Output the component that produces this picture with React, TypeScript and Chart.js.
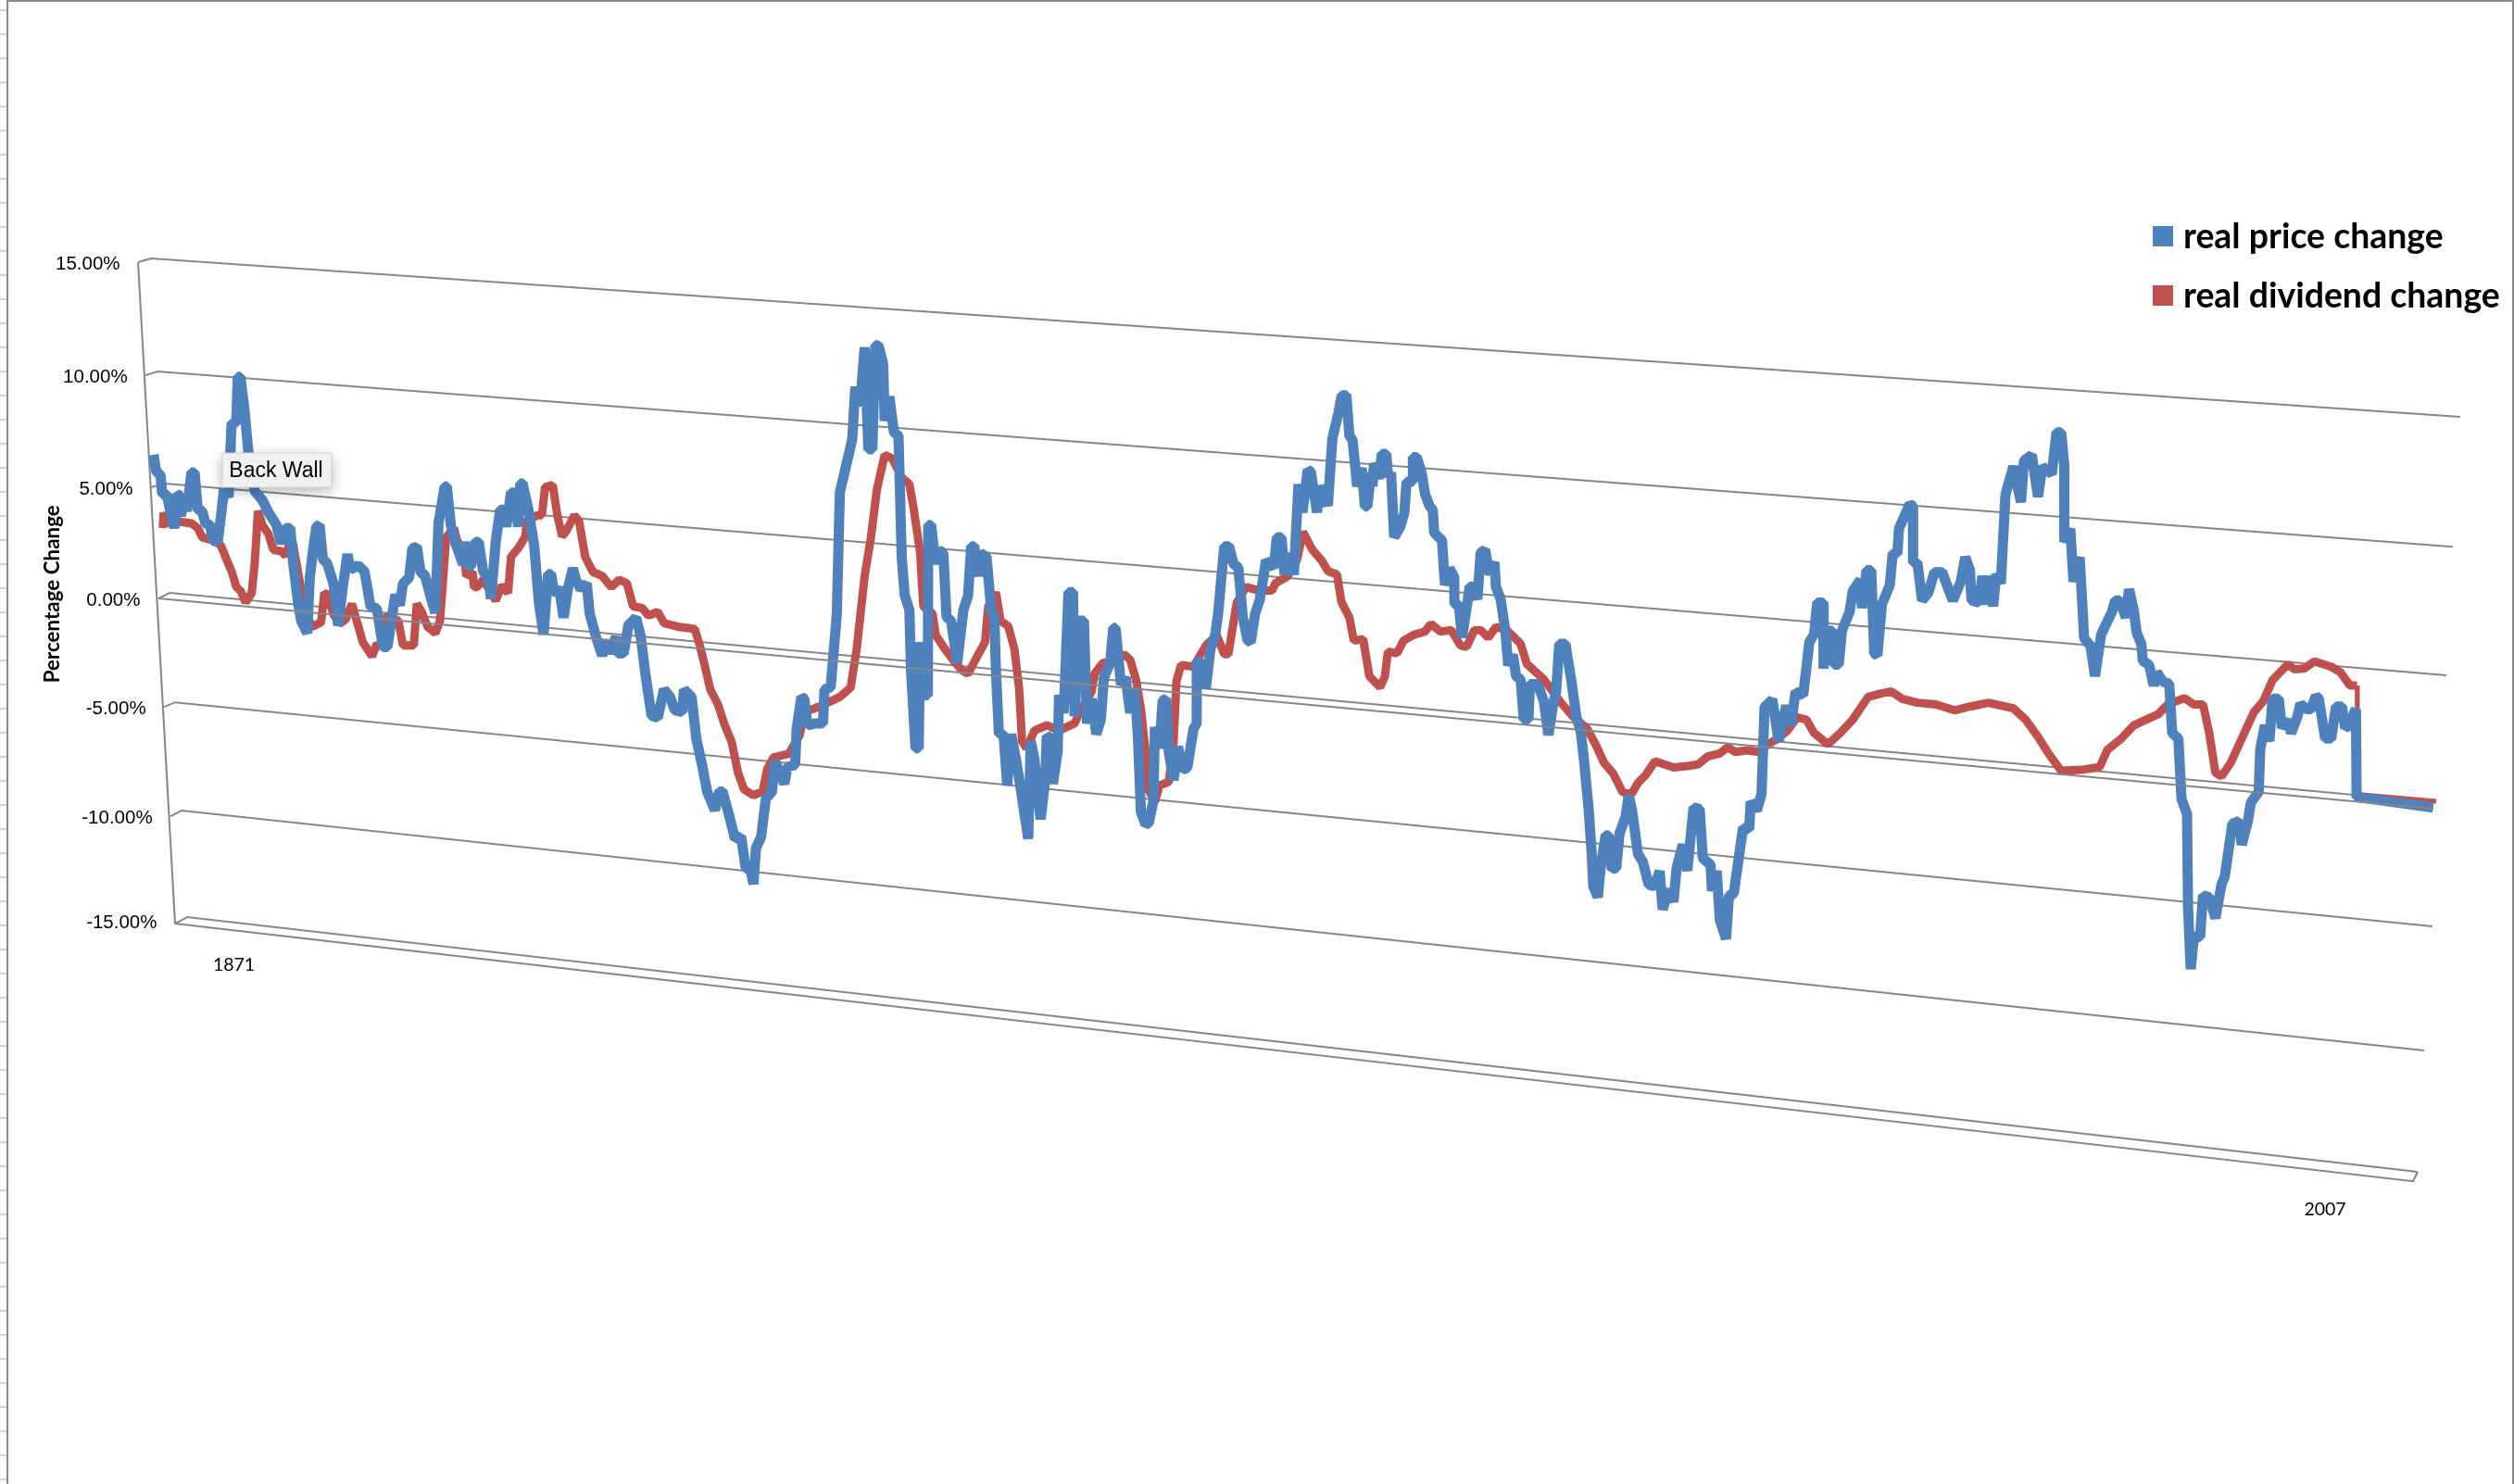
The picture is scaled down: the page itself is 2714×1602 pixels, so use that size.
import React, { useEffect, useRef } from "react";
import { Chart, registerables } from "chart.js";

Chart.register(...registerables);

const seriesNames = ["real price change", "real dividend change"];
const seriesColors = ["#4F81BD", "#C0504D"];
const gridColor = "#868686";

const priceChange = [
[1871.04,6.22],[1871.19,5.49],[1871.46,5.28],[1871.56,4.44],[1871.83,4.44],[1872.02,3.75],[1872.30,2.92],[1872.44,4.44],[1872.63,4.38],[1872.67,3.47],[1872.89,4.10],[1873.04,3.68],[1873.31,5.42],[1873.50,5.42],[1873.69,3.75],[1873.96,3.68],[1874.15,3.13],[1874.43,3.06],[1874.61,2.36],[1874.89,2.29],[1875.13,3.75],[1875.26,4.65],[1875.54,4.31],[1875.72,7.64],[1876.00,7.64],[1876.09,9.72],[1876.24,9.72],[1876.46,8.47],[1876.74,6.25],[1877.11,4.58],[1877.57,4.17],[1877.94,3.61],[1878.41,3.06],[1878.69,2.22],[1878.96,2.92],[1879.24,2.92],[1879.43,1.25],[1879.70,-0.42],[1879.89,-1.25],[1880.26,-1.81],[1880.41,0.69],[1880.63,2.08],[1880.81,2.99],[1881.00,3.06],[1881.19,1.53],[1881.46,1.32],[1881.83,0.42],[1882.11,-1.46],[1882.39,0.28],[1882.67,1.74],[1882.85,1.04],[1883.31,1.25],[1883.69,0.97],[1884.06,-0.63],[1884.43,-0.69],[1884.80,-2.43],[1885.07,-2.43],[1885.54,-0.07],[1885.81,-0.56],[1886.00,0.42],[1886.37,0.69],[1886.56,2.01],[1886.83,2.08],[1887.06,0.90],[1887.30,0.83],[1887.67,-0.21],[1887.94,-0.90],[1888.13,3.13],[1888.50,4.79],[1888.63,4.79],[1888.87,3.06],[1889.15,2.22],[1889.61,1.28],
[1889.70,2.30],[1889.89,1.19],[1890.07,1.19],[1890.35,2.30],[1890.54,2.30],[1890.81,0.94],[1891.09,0.77],[1891.28,-0.26],[1891.56,2.30],[1891.83,3.74],[1892.02,3.74],[1892.20,2.98],[1892.48,4.51],[1892.67,4.51],[1892.91,2.98],[1893.04,4.93],[1893.17,4.93],[1893.50,3.83],[1893.87,2.13],[1894.15,-0.43],[1894.43,-1.87],[1894.70,0.85],[1894.89,0.85],[1895.07,-0.09],[1895.35,0.26],[1895.63,-1.11],[1895.91,0.26],[1896.19,1.11],[1896.37,0.60],[1896.65,0.17],[1897.02,0.43],[1897.20,-0.94],[1897.57,-1.96],[1897.94,-2.81],[1898.22,-2.13],[1898.41,-2.72],[1898.78,-1.96],[1898.87,-2.72],[1899.24,-2.72],[1899.52,-1.45],[1899.98,-1.11],[1900.26,-1.96],[1900.54,-3.66],[1900.91,-5.53],[1901.28,-5.61],[1901.65,-4.34],[1902.02,-4.68],[1902.30,-5.27],[1902.76,-5.36],[1902.85,-4.34],[1903.31,-4.68],[1903.59,-6.55],[1903.96,-7.82],[1904.24,-8.93],[1904.70,-9.78],[1904.98,-8.93],[1905.17,-8.93],[1905.54,-9.95],[1905.91,-11.05],[1906.28,-10.97],[1906.56,-12.41],[1906.83,-12.41],[1907.02,-13.10],[1907.17,-11.48],[1907.48,-10.97],[1907.76,-9.27],[1908.13,-8.93],[1908.31,-7.57],[1908.50,-7.91],[1908.87,-8.59],[1909.06,-7.82],[1909.52,-7.74],[1909.61,-6.12],[1909.89,-4.68],[1910.07,-4.76],[1910.26,-5.95],[1910.72,-5.87],[1911.19,-5.87],[1911.28,-4.34],[1911.65,-4.25],[1911.83,-2.64],[1912.02,-0.94],[1912.20,4.51],[1912.57,5.70],[1912.94,6.89],[1913.13,9.27],[1913.41,8.42],[1913.69,11.05],[1913.91,6.46],[1914.15,6.46],[1914.33,11.14],[1914.52,11.14],[1914.80,10.29],[1914.89,7.74],[1915.17,8.84],[1915.44,7.23],[1915.72,7.06],[1915.91,1.62],[1916.09,-0.09],
[1916.37,-0.77],[1916.47,-3.48],[1916.74,-6.99],[1916.93,-6.99],[1917.02,-2.21],[1917.30,-4.60],[1917.48,-4.60],[1917.50,3.06],[1917.67,3.06],[1917.95,1.30],[1918.13,1.94],[1918.41,1.78],[1918.60,-1.09],[1918.87,-1.25],[1919.24,-3.16],[1919.61,-0.77],[1919.89,-0.13],[1920.08,2.10],[1920.26,2.10],[1920.54,0.75],[1920.63,1.78],[1921.00,1.62],[1921.28,-0.77],[1921.47,-1.09],[1921.56,-3.48],[1921.74,-6.35],[1922.02,-6.35],[1922.24,-8.66],[1922.48,-6.35],[1922.76,-7.47],[1923.04,-8.75],[1923.32,-10.18],[1923.50,-11.06],[1923.65,-6.67],[1923.87,-7.47],[1924.24,-10.18],[1924.52,-8.42],[1924.61,-6.43],[1924.80,-6.51],[1924.98,-8.59],[1925.26,-7.15],[1925.35,-4.60],[1925.63,-5.40],[1925.91,0.03],[1926.19,0.03],[1926.28,-5.55],[1926.56,-1.25],[1926.84,-1.25],[1927.02,-5.87],[1927.30,-4.76],[1927.58,-6.35],[1927.85,-5.71],[1928.04,-3.80],[1928.41,-3.16],[1928.60,-1.57],[1928.74,-1.57],[1929.06,-4.12],[1929.34,-3.80],[1929.61,-5.40],[1929.89,-4.28],[1930.08,-6.51],[1930.26,-9.86],[1930.54,-10.42],[1930.73,-10.34],[1931.00,-9.38],[1931.10,-6.03],[1931.37,-6.99],[1931.56,-4.84],[1931.78,-4.76],[1931.93,-7.15],[1932.21,-8.42],[1932.48,-6.91],[1932.76,-7.95],[1933.04,-7.87],[1933.41,-6.11],[1933.60,-5.87],[1933.61,-3.08],[1933.78,-3.08],[1934.15,-4.28],[1934.43,-2.52],[1934.71,-1.89],[1934.89,-0.93],[1935.08,0.67],[1935.26,2.10],[1935.54,2.10],[1935.82,1.30],[1936.10,1.14],[1936.37,-1.09],[1936.65,-2.13],[1936.84,-2.21],[1937.11,-0.93],[1937.39,-0.29],[1937.76,1.46],[1938.23,1.14],[1938.41,2.50],[1938.69,2.50],[1938.87,0.82],[1939.15,1.78],[1939.43,0.82],[1939.71,4.89],[1939.95,3.62],[1940.26,5.53],[1940.45,5.45],[1940.82,3.62],[1941.00,4.81],[1941.47,3.93],[1941.74,6.94],
[1942.11,8.12],[1942.30,8.89],[1942.58,8.89],[1942.76,7.08],[1942.95,6.87],[1943.13,5.55],[1943.22,4.79],[1943.50,5.62],[1943.69,3.89],[1943.84,3.89],[1944.06,5.41],[1944.15,4.79],[1944.24,5.83],[1944.52,5.14],[1944.71,6.25],[1944.98,6.25],[1945.08,5.21],[1945.26,5.41],[1945.45,2.50],[1945.82,2.98],[1946.06,3.61],[1946.19,5.00],[1946.56,5.00],[1946.57,6.11],[1946.80,6.11],[1947.11,5.34],[1947.30,4.44],[1947.58,3.89],[1947.76,3.75],[1947.85,2.71],[1948.32,2.36],[1948.41,1.25],
[1948.50,0.35],[1948.77,1.11],[1949.05,0.69],[1949.06,-0.49],[1949.33,-0.56],[1949.52,-2.01],[1949.98,0.28],[1950.16,0.28],[1950.44,-0.28],[1950.63,1.81],[1950.90,1.94],[1951.18,0.83],[1951.46,1.39],[1951.55,0.28],[1951.83,-0.28],[1952.11,-1.67],[1952.29,-3.26],[1952.57,-2.78],[1952.76,-3.75],[1953.03,-3.89],[1953.22,-5.69],[1953.50,-5.69],[1953.59,-4.10],[1954.05,-4.10],[1954.42,-4.86],[1954.70,-6.39],[1954.98,-5.00],[1955.16,-4.44],[1955.35,-2.29],[1955.72,-2.29],[1956.09,-4.03],[1956.37,-5.56],[1956.64,-6.25],[1956.83,-7.50],[1957.11,-9.72],[1957.29,-11.67],[1957.39,-13.19],[1957.66,-13.68],[1957.85,-12.22],[1958.13,-10.90],[1958.31,-10.90],[1958.50,-12.43],[1958.77,-12.36],[1958.96,-10.83],[1959.33,-10.07],[1959.51,-9.10],[1959.70,-9.72],[1960.07,-11.74],[1960.35,-12.08],[1960.72,-13.13],[1961.09,-13.19],[1961.37,-12.50],[1961.55,-14.24],[1961.92,-13.33],[1962.20,-13.89],[1962.39,-12.36],[1962.76,-11.32],[1963.03,-12.50],[1963.40,-9.65],[1963.77,-9.72],[1963.96,-11.94],[1964.42,-12.22],[1964.51,-13.40],[1964.79,-12.50],[1964.98,-14.72],[1965.35,-15.56],[1965.53,-13.61],[1965.81,-13.54],[1966.37,-10.56],[1966.74,-10.63],[1966.83,-9.38],[1967.20,-9.79],[1967.48,-9.03],[1967.66,-5.14],[1968.13,-4.79],[1968.50,-6.67],[1968.96,-5.07],[1969.24,-5.97],[1969.52,-4.44],
[1969.98,-4.60],[1970.35,-2.21],[1970.63,-1.87],[1970.82,-0.43],[1971.19,-0.43],[1971.20,-3.40],[1971.46,-1.70],[1971.74,-1.70],[1971.83,-3.23],[1972.11,-3.23],[1972.30,-1.70],[1972.76,-0.85],[1972.95,0.08],[1973.41,0.59],[1973.50,-0.68],[1973.78,1.02],[1974.06,1.02],[1974.24,-2.72],[1974.43,-2.81],[1974.70,-0.51],[1975.17,0.34],[1975.35,1.78],[1975.63,1.78],[1975.72,2.89],[1976.37,3.99],[1976.56,3.91],[1976.57,1.36],[1976.83,1.36],[1977.11,-0.34],[1977.48,0.00],[1977.85,0.93],[1978.32,0.93],[1978.69,0.17],[1978.96,-0.34],[1979.43,0.51],[1979.70,1.61],[1979.98,1.02],[1980.07,-0.34],[1980.54,-0.43],[1980.72,0.76],[1981.00,-0.51],[1981.09,0.76],[1981.37,-0.60],[1981.56,0.85],[1981.83,0.42],[1982.11,4.42],[1982.58,5.69],[1983.04,4.08],[1983.22,5.95],[1983.69,6.20],[1984.06,4.33],[1984.33,5.69],[1984.89,5.35],[1985.17,7.22],[1985.45,7.22],[1985.63,5.78],[1985.64,2.29],[1986.00,2.89],[1986.19,0.51],[1986.56,1.61],[1986.83,-2.04],[1987.21,-2.38],[1987.48,-3.74],[1987.85,-1.87],[1988.50,-0.85],[1988.69,-0.34],[1988.96,-0.34],[1989.33,-1.11],[1989.52,0.17],[1989.80,-0.77],[1989.98,-1.79],[1990.26,-2.30],[1990.35,-3.06],[1990.72,-3.23],[1991.00,-4.17],[1991.19,-3.57],[1991.56,-4.00],[1991.93,-4.08],[1992.11,-6.30],[1992.48,-6.55],[1992.67,-9.27],[1993.00,-9.95],[1993.06,-14.12],[1993.22,-16.92],[1993.41,-15.48],[1993.78,-15.48],[1993.96,-13.61],[1994.33,-13.69],[1994.70,-14.63],[1995.07,-13.10],
[1995.26,-12.77],[1995.72,-10.38],[1996.13,-10.26],[1996.28,-11.33],[1996.65,-10.26],[1996.83,-9.42],[1997.30,-8.94],[1997.39,-7.03],[1997.67,-5.95],[1997.94,-6.67],[1998.13,-4.76],[1998.50,-4.76],[1998.69,-6.07],[1999.06,-5.71],[1999.24,-6.31],[1999.61,-5.59],[1999.80,-4.99],[2000.17,-5.23],[2000.44,-5.23],[2000.72,-4.64],[2000.91,-4.76],[2001.28,-6.55],[2001.65,-6.55],[2001.93,-5.11],[2002.30,-5.11],[2002.48,-6.07],[2002.76,-5.95],[2003.04,-5.35],[2003.13,-5.23],[2003.17,-9.18],[2007.76,-9.66]
];

const dividendChange = [
[1871.59,2.92],[1871.65,3.61],[1871.93,3.06],[1872.20,3.26],[1872.76,3.19],[1873.31,3.13],[1873.69,2.92],[1873.96,2.50],[1874.61,2.36],[1875.07,2.15],[1875.44,1.46],[1875.72,0.97],[1876.00,0.28],[1876.28,0.07],[1876.56,-0.42],[1876.93,0.00],[1877.11,1.39],[1877.30,3.68],[1877.57,3.06],[1877.94,2.64],[1878.22,1.94],[1878.69,1.88],[1878.96,1.67],[1879.33,2.50],[1879.70,0.97],[1880.07,-0.69],[1880.54,-1.53],[1881.09,-1.32],[1881.28,0.00],[1881.46,-0.07],[1881.83,-0.97],[1882.20,-1.39],[1882.57,-1.18],[1882.94,-0.49],[1883.22,-1.25],[1883.59,-2.22],[1884.15,-2.85],[1884.43,-2.29],[1884.70,-2.43],[1884.98,-1.04],[1885.72,-1.25],[1886.00,-2.36],[1886.65,-2.36],[1886.83,-0.49],[1887.11,-0.83],[1887.48,-1.53],[1887.94,-1.81],[1888.22,-1.25],[1888.41,0.69],[1888.59,2.50],[1889.06,2.92],[1889.24,2.36],[1889.61,1.94],
[1889.80,0.77],[1890.17,0.94],[1890.26,0.26],[1890.44,0.26],[1890.81,0.60],[1891.56,-0.34],[1891.93,0.34],[1892.30,0.00],[1892.48,1.62],[1892.94,2.04],[1893.35,2.55],[1893.41,3.23],[1894.06,3.49],[1894.33,3.49],[1894.52,4.76],[1894.98,4.85],[1895.26,3.49],[1895.54,2.55],[1895.81,2.81],[1896.28,3.49],[1896.56,3.23],[1896.93,1.62],[1897.39,0.94],[1897.94,0.77],[1898.50,0.26],[1898.96,0.60],[1899.43,0.43],[1899.80,-0.60],[1900.35,-0.68],[1900.72,-1.02],[1901.28,-0.85],[1901.65,-1.36],[1902.57,-1.53],[1903.50,-1.62],[1903.78,-2.30],[1904.06,-3.15],[1904.43,-4.34],[1904.89,-5.02],[1905.26,-5.87],[1905.72,-6.72],[1906.09,-8.08],[1906.46,-8.84],[1907.02,-9.10],[1907.57,-8.93],[1907.85,-7.91],[1908.22,-7.40],[1909.15,-7.23],[1909.80,-6.38],[1910.07,-5.36],[1911.00,-5.10],[1912.20,-4.68],[1912.85,-4.25],[1913.22,-2.47],[1913.69,0.77],[1914.06,2.47],[1914.43,4.68],[1914.89,6.21],[1915.35,6.04],[1915.91,5.19],[1916.37,4.89],
[1916.65,3.70],[1917.02,1.78],[1917.21,-0.61],[1917.76,-0.93],[1917.95,-1.89],[1918.50,-2.52],[1919.06,-3.08],[1919.52,-3.48],[1919.89,-3.64],[1920.45,-2.84],[1920.91,-2.21],[1921.10,-0.61],[1921.56,0.03],[1921.84,-1.25],[1922.30,-1.49],[1922.67,-2.52],[1922.95,-4.28],[1923.13,-6.67],[1923.41,-6.99],[1923.87,-6.19],[1924.61,-5.95],[1925.35,-6.19],[1926.28,-5.87],[1926.65,-5.24],[1927.30,-4.44],[1927.48,-3.64],[1927.95,-3.16],[1928.50,-3.08],[1929.24,-2.76],[1929.61,-3.00],[1929.98,-3.96],[1930.26,-5.24],[1930.54,-7.15],[1930.63,-8.75],[1931.10,-9.38],[1931.37,-8.66],[1931.93,-8.50],[1932.21,-6.83],[1932.39,-3.96],[1932.67,-3.24],[1933.41,-3.32],[1934.15,-2.37],[1934.80,-1.89],[1935.26,-2.76],[1935.50,-2.76],[1936.00,-0.45],[1936.56,0.27],[1937.30,0.11],[1938.13,0.11],[1938.32,0.43],[1939.06,0.75],[1939.61,1.46],[1939.98,2.74],[1940.54,1.94],[1941.10,1.46],[1941.47,0.98],[1942.02,0.83],
[1942.29,-0.42],[1942.76,-1.11],[1943.03,-2.15],[1943.59,-2.08],[1943.96,-3.75],[1944.61,-4.24],[1944.89,-3.75],[1945.07,-2.64],[1945.63,-2.71],[1946.00,-2.15],[1946.64,-1.88],[1947.29,-1.74],[1947.66,-1.39],[1948.22,-1.74],[1948.87,-1.67],[1949.42,-2.36],[1949.79,-2.43],[1950.26,-1.67],[1950.63,-1.67],[1951.09,-2.01],[1951.55,-1.53],[1952.20,-1.67],[1953.03,-2.29],[1953.40,-3.19],[1954.42,-3.89],[1955.44,-4.93],[1956.18,-5.56],[1957.02,-6.11],[1957.57,-6.88],[1958.03,-7.64],[1958.59,-8.13],[1959.14,-8.96],[1959.70,-9.03],[1960.07,-8.54],[1960.53,-8.19],[1961.09,-7.57],[1962.20,-7.85],[1963.13,-7.78],[1963.68,-7.71],[1964.24,-7.36],[1964.98,-7.22],[1965.44,-6.94],[1965.90,-7.15],[1966.64,-7.08],[1967.29,-7.15],[1968.03,-6.74],[1968.50,-6.53],[1969.05,-6.18],[1969.61,-5.60],
[1970.17,-5.70],[1970.63,-6.30],[1971.46,-6.81],[1972.20,-6.30],[1972.95,-5.70],[1973.87,-4.68],[1974.70,-4.51],[1975.26,-4.43],[1975.91,-4.76],[1976.83,-4.94],[1977.95,-5.02],[1979.06,-5.28],[1979.98,-5.11],[1981.09,-4.94],[1982.58,-5.19],[1983.32,-5.70],[1984.06,-6.47],[1984.70,-7.23],[1985.45,-8.00],[1986.65,-7.96],[1987.76,-7.83],[1988.22,-7.06],[1989.06,-6.55],[1989.80,-5.96],[1990.54,-5.70],[1991.28,-5.45],[1991.83,-5.02],[1992.85,-4.73],[1993.41,-5.02],[1993.96,-5.02],[1994.33,-6.30],[1994.70,-8.08],[1995.07,-8.25],
[1995.63,-7.63],[1996.28,-6.55],[1997.02,-5.35],[1997.57,-4.87],[1998.13,-3.92],[1999.06,-3.20],[1999.43,-3.44],[2000.07,-3.39],[2000.63,-3.08],[2001.65,-3.32],[2002.20,-3.56],[2002.76,-4.16],[2003.20,-4.16],[2003.22,-9.06],[2007.94,-9.37]
];

// Gridlines as they appear in the tilted 3D view: corner on the axis, back-wall start, far end.
const gridLabels = ["15.00%", "10.00%", "5.00%", "0.00%", "-5.00%", "-10.00%", "-15.00%"];
const gridCornerYear = [1870.11, 1870.56, 1870.89, 1871.33, 1871.67, 1872.06, 1872.33];
const gridCornerValue = [14.875, 9.79, 4.75, -0.25, -5.125, -10.04, -14.875];
const gridBackYear = [1870.89, 1871.28, 1871.72, 1872.0, 1872.33, 1872.72, 1873.06];
const gridBackValue = [15.04, 9.96, 4.92, 0, -4.92, -9.79, -14.58];
const gridEndYear = [2009.39, 2008.94, 2008.56, 2007.94, 2007.72, 2007.22, 2006.83];
const gridEndValue = [7.92, 2.08, -3.71, -9.42, -15.0, -20.58, -26.04];
const tickLabelValue = [14.83, 9.75, 4.71, -0.29, -5.17, -10.08, -14.79];

const floorFrontZero = [[1871.33, -0.25], [2007.78, -9.71]];
const floorFrontBottom = [[1872.33, -14.875], [2006.56, -26.46], [2006.83, -26.04]];

const xLabels = ["1871", "2007"];
const xLabelYear = [1875.86, 2001.28];
const xLabelValue = [-16.75, -27.75];

const axisTitle = "Percentage Change";
const wallCaption = "Back Wall";

const toPoints = (rows: number[][]) => rows.map(([x, y]) => ({ x, y }));

const gridDataset = (data: { x: number; y: number }[], order: number) => ({
  label: "",
  data,
  borderColor: gridColor,
  borderWidth: 2,
  pointRadius: 0,
  showLine: true,
  order,
});

const seriesDataset = (i: number, rows: number[][], width: number, order: number) => ({
  label: seriesNames[i],
  data: toPoints(rows),
  borderColor: seriesColors[i],
  borderWidth: width,
  borderJoinStyle: "bevel" as const,
  borderCapStyle: "butt" as const,
  pointRadius: 0,
  showLine: true,
  tension: 0,
  order,
  segment: {
    borderWidth: (ctx: any) => (ctx.p0.parsed.x > 2003.18 ? 5 : width),
  },
});

const annotations = {
  id: "annotations",
  afterDraw(chart: any) {
    const { ctx, scales } = chart;
    const X = (v: number) => scales.x.getPixelForValue(v);
    const Y = (v: number) => scales.y.getPixelForValue(v);
    ctx.save();
    ctx.fillStyle = "#000";

    ctx.font = '20.5px "Liberation Sans"';
    ctx.textAlign = "right";
    ctx.textBaseline = "middle";
    gridLabels.forEach((t, i) => {
      ctx.fillText(t, X(gridCornerYear[i]) - 19.5, Y(tickLabelValue[i]) + 1);
    });

    ctx.font = '19.5px Lato';
    ctx.textAlign = "center";
    xLabels.forEach((t, i) => ctx.fillText(t, X(xLabelYear[i]), Y(xLabelValue[i])));

    ctx.save();
    ctx.translate(57, Y(-0.05));
    ctx.rotate(-Math.PI / 2);
    ctx.font = 'bold 22.4px Lato';
    ctx.fillText(axisTitle, 0, 0);
    ctx.restore();

    // legend
    ctx.textAlign = "left";
    ctx.font = 'bold 37.4px Lato';
    seriesNames.forEach((name, i) => {
      const y = 255 + i * 64;
      ctx.fillStyle = seriesColors[i];
      ctx.fillRect(2324, y - 11, 22, 22);
      ctx.fillStyle = "#000";
      ctx.fillText(name, 2357, y + 1);
    });

    // "Back Wall" hover caption
    ctx.save();
    ctx.shadowColor = "rgba(0,0,0,0.3)";
    ctx.shadowBlur = 14;
    ctx.shadowOffsetY = 4;
    ctx.fillStyle = "#f0f0f0";
    ctx.fillRect(240, 489, 118, 37);
    ctx.restore();
    ctx.strokeStyle = "#d4d4d4";
    ctx.lineWidth = 1;
    ctx.strokeRect(240, 489, 118, 37);
    ctx.fillStyle = "#000";
    ctx.font = '23px "Liberation Sans"';
    ctx.textAlign = "center";
    ctx.fillText(wallCaption, 298, 509);
    ctx.restore();
  },
};

export default function App() {
  const ref = useRef<HTMLCanvasElement | null>(null);

  useEffect(() => {
    if (!ref.current) return;
    const wallLines = gridLabels.map((_, i) =>
      gridDataset(
        [
          { x: gridCornerYear[i], y: gridCornerValue[i] },
          { x: gridBackYear[i], y: gridBackValue[i] },
          { x: gridEndYear[i], y: gridEndValue[i] },
        ],
        4,
      ),
    );
    const axisLine = gridDataset(
      [
        { x: gridCornerYear[0], y: gridCornerValue[0] },
        { x: gridCornerYear[6], y: gridCornerValue[6] },
      ],
      4,
    );
    const chart = new Chart(ref.current, {
      type: "scatter",
      data: {
        datasets: [
          ...wallLines,
          axisLine,
          gridDataset(toPoints(floorFrontBottom), 4),
          seriesDataset(1, dividendChange, 9, 3),
          seriesDataset(0, priceChange, 11, 2),
          gridDataset(toPoints(floorFrontZero), 1),
        ] as any,
      },
      options: {
        animation: false,
        responsive: false,
        devicePixelRatio: 1,
        layout: { padding: 0 },
        events: [],
        plugins: { legend: { display: false }, tooltip: { enabled: false } },
        scales: {
          x: { type: "linear", display: false, min: 1861.83, max: 2012.61 },
          y: { type: "linear", display: false, min: -40.08, max: 26.67 },
        },
      },
      plugins: [annotations],
    });
    return () => chart.destroy();
  }, []);

  return (
    <div style={{ position: "absolute", left: 0, top: 0, width: 2714, height: 1602, background: "#fff", overflow: "hidden" }}>
      <canvas ref={ref} width={2714} height={1602} style={{ display: "block", position: "absolute", left: 0, top: 0 }} />
      <div style={{ position: "absolute", left: 0, top: 0, width: 7, height: 1602, background: "repeating-linear-gradient(to bottom, #fff 0, #fff 10px, #d2d2d2 10px, #d2d2d2 12px, #fff 12px, #fff 26px)" }} />
      <div style={{ position: "absolute", left: 7, top: 0, width: 2, height: 1602, background: "#8a8a8a" }} />
      <div style={{ position: "absolute", left: 7, top: 0, width: 2707, height: 2, background: "#8a8a8a" }} />
      <div style={{ position: "absolute", left: 2712, top: 0, width: 2, height: 1602, background: "#8a8a8a" }} />
    </div>
  );
}
